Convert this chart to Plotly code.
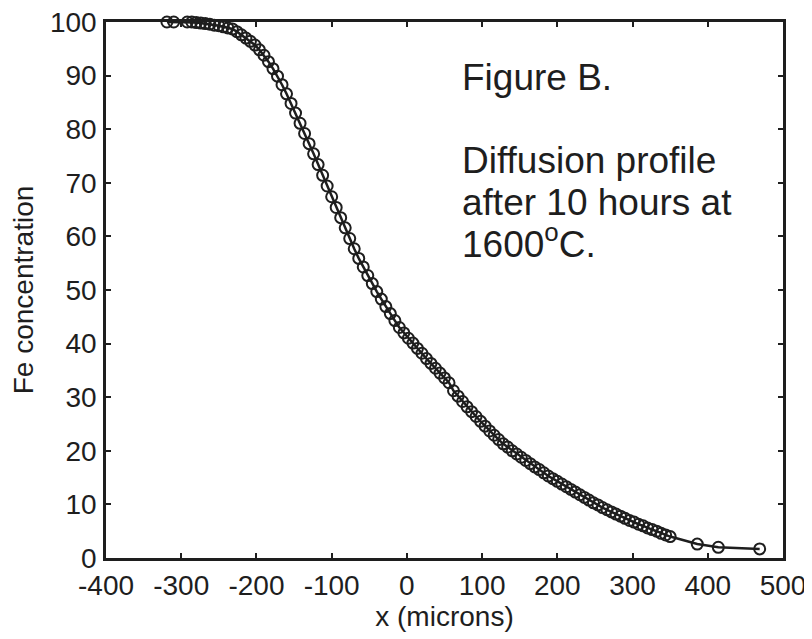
import plotly.graph_objects as go

x_microns = [-319, -310, -292, -286, -280, -274, -268, -262, -256, -250, -244, -238,
             -232, -226, -220, -214, -208, -202, -196, -190, -184, -178, -172, -166,
             -160, -154, -148, -142, -136, -130, -124, -118, -112, -106, -100, -94,
             -88, -82, -76, -70, -64, -58, -52, -46, -40, -34, -28, -22, -16, -10,
             -4, 2, 8, 14, 20, 26, 32, 38, 44, 50, 56, 62, 68, 74, 80, 86, 92, 98,
             104, 110, 116, 122, 128, 134, 140, 146, 152, 158, 164, 170, 176, 182,
             188, 194, 200, 206, 212, 218, 224, 230, 236, 242, 248, 254, 260, 266,
             272, 278, 284, 290, 296, 302, 308, 314, 320, 326, 332, 338, 344, 350,
             386, 414, 469]
fe_conc = [100.0, 100.0, 100.0, 100.0, 99.9, 99.8, 99.7, 99.6, 99.4, 99.3, 99.1, 98.9,
           98.7, 98.2, 97.6, 97.0, 96.4, 95.7, 94.8, 93.8, 92.6, 91.3, 89.9, 88.3,
           86.6, 84.8, 83.0, 81.1, 79.2, 77.3, 75.4, 73.4, 71.4, 69.4, 67.4, 65.4,
           63.5, 61.6, 59.6, 57.7, 55.9, 54.3, 52.7, 51.2, 49.7, 48.3, 46.9, 45.6, 44.3, 43.0,
           42.0, 41.0, 40.1, 39.1, 38.2, 37.2, 36.3, 35.4, 34.5, 33.6, 32.7, 31.2, 30.2, 29.2,
           28.2, 27.3, 26.4, 25.5, 24.6, 23.7, 22.9, 22.1, 21.3, 20.7, 20.0, 19.4, 18.8, 18.2,
           17.6, 17.0, 16.5, 15.9, 15.3, 14.8, 14.3, 13.8, 13.3, 12.8, 12.3, 11.8, 11.3, 10.8,
           10.3, 9.9, 9.4, 9.0, 8.6, 8.2, 7.8, 7.4, 7.0, 6.7, 6.3, 6.0, 5.6, 5.3, 5.0, 4.6,
           4.3, 4.0, 2.6, 2.0, 1.7]

x_ticks = [-400, -300, -200, -100, 0, 100, 200, 300, 400, 500]
x_tick_labels = ["-400", "-300", "-200", "-100", "0", "100", "200", "300", "400", "500"]
y_ticks = [0, 10, 20, 30, 40, 50, 60, 70, 80, 90, 100]
y_tick_labels = ["0", "10", "20", "30", "40", "50", "60", "70", "80", "90", "100"]

note_lines = ["Figure B.", "Diffusion profile", "after 10 hours at", "1600<sup>o</sup>C."]

FONT = "Liberation Sans, Arial, sans-serif"
INK = "#1e1e1e"

fig = go.Figure()
fig.add_trace(go.Scatter(
    x=x_microns, y=fe_conc, mode="lines+markers",
    line=dict(color=INK, width=2.5),
    marker=dict(symbol="circle-open", size=11, color=INK, line=dict(width=2, color=INK)),
    showlegend=False, cliponaxis=False,
))

axis_common = dict(
    showgrid=False, zeroline=False, showline=True, linecolor=INK, linewidth=2.5,
    mirror="ticks", ticks="inside", ticklen=5, tickwidth=2, tickcolor=INK,
    tickfont=dict(family=FONT, size=28, color=INK), automargin=False,
    ticklabeloverflow="allow",
)
fig.update_xaxes(range=[-400, 500], tickvals=x_ticks, ticktext=x_tick_labels,
                 title=dict(text="x (microns)", font=dict(family=FONT, size=28, color=INK), standoff=5),
                 ticklabelstandoff=1, **axis_common)
fig.update_yaxes(range=[0, 100], tickvals=y_ticks, ticktext=y_tick_labels,
                 title=dict(text="Fe concentration", font=dict(family=FONT, size=28, color=INK), standoff=24),
                 ticklabelstandoff=1, **axis_common)

# plot area in page pixels: left 106, right 783, top 22, bottom 558
baselines_px = [91, 174, 216, 258]
for txt, py in zip(note_lines, baselines_px):
    fig.add_annotation(text=txt, xref="paper", yref="paper", x=(460 - 106) / 677,
                       y=(558 - py) / 536, xanchor="left", yanchor="bottom", showarrow=False,
                       font=dict(family=FONT, size=37, color=INK), yshift=-9)

# the page body adds an 8px margin, so the figure is 8px smaller and margins shifted
fig.update_layout(width=804, height=631, margin=dict(l=98, r=29, t=14, b=81),
                  paper_bgcolor="white", plot_bgcolor="white")
fig.write_html("out.html")
